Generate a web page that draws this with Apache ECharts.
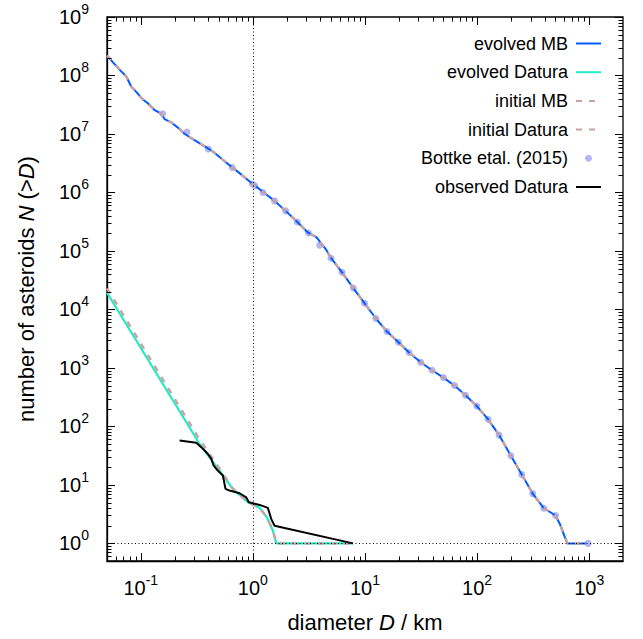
<!DOCTYPE html>
<html><head><meta charset="utf-8">
<script src="https://cdn.jsdelivr.net/npm/echarts@6/dist/echarts.min.js"></script>
<style>html,body{margin:0;padding:0;background:#fff}#c{width:643px;height:639px}</style>
</head><body><div id="c"></div>
<script>
// ---- data ----
const xMajorTicks = [0.1, 1, 10, 100, 1000];
const yMajorTicks = [1, 10, 100, 1e3, 1e4, 1e5, 1e6, 1e7, 1e8, 1e9];

const evolvedMB_D = [0.05, 0.0646, 0.0741, 0.082, 0.092, 0.103, 0.115, 0.132, 0.152, 0.163, 0.187, 0.222, 0.245, 0.272, 0.334, 0.44, 0.578, 0.76, 0.936, 1.32, 1.56, 1.96, 2.49, 3.13, 3.68, 4.52, 4.97, 6.24, 7.87, 9.89, 12.5, 15.7, 19.9, 24.7, 31.4, 39.6, 50.1, 62.8, 78.7, 99.3, 125, 157, 200, 250, 313, 393, 501, 547, 607, 641, 930];
const evolvedMB_N = [2.19e8, 1.26e8, 9.68e7, 6.53e7, 5.15e7, 3.97e7, 3.39e7, 2.59e7, 2.22e7, 1.80e7, 1.58e7, 1.22e7, 1.01e7, 8.87e6, 7.0e6, 5.02e6, 3.25e6, 2.14e6, 1.54e6, 9.2e5, 7.18e5, 4.84e5, 3.13e5, 2.03e5, 1.72e5, 1.04e5, 7.6e4, 4.31e4, 2.32e4, 1.28e4, 7.0e3, 4.2e3, 2.75e3, 1.83e3, 1.25e3, 912, 684, 499, 340, 223, 133, 71, 31.5, 15, 7.1, 4, 3, 2.15, 1.27, 1, 1];

const initialMB_D = [0.05, 0.0646, 0.0741, 0.082, 0.092, 0.103, 0.115, 0.132, 0.152, 0.163, 0.187, 0.222, 0.245, 0.272, 0.334, 0.44, 0.578, 0.76, 0.936, 1.32, 1.56, 1.96, 2.49, 3.13, 3.68, 4.52, 4.97, 6.24, 7.87, 9.89, 12.5, 15.7, 19.9, 24.7, 31.4, 39.6, 50.1, 62.8, 78.7, 99.3, 125, 157, 200, 250, 313, 393, 501, 547, 607, 641, 930];
const initialMB_N = [2.2e8, 1.27e8, 9.7e7, 6.55e7, 5.15e7, 3.98e7, 3.39e7, 2.6e7, 2.22e7, 1.8e7, 1.58e7, 1.22e7, 1.01e7, 8.9e6, 7.0e6, 5.0e6, 3.25e6, 2.14e6, 1.54e6, 9.2e5, 7.2e5, 4.85e5, 3.13e5, 2.03e5, 1.72e5, 1.04e5, 7.6e4, 4.3e4, 2.32e4, 1.28e4, 7.0e3, 4.2e3, 2.75e3, 1.83e3, 1.25e3, 912, 684, 499, 340, 223, 133, 71, 31.5, 15, 7.1, 4, 3, 2.15, 1.27, 1, 1];

const evolvedDatura_D = [0.05, 0.334, 0.504, 0.662, 0.902, 1.148, 1.334, 1.51, 1.62, 7.82];
const evolvedDatura_N = [1.93e4, 50.6, 17.6, 8.55, 5.05, 4.05, 2.79, 1.65, 1, 1];

const initialDatura_D = [0.05, 0.334, 0.504, 0.662, 0.902, 1.148, 1.334, 1.51, 1.62, 7.82];
const initialDatura_N = [2.3e4, 60, 19, 8.7, 5.05, 4.05, 2.79, 1.65, 1, 1];

const bottke_D = [0.157, 0.258, 0.40, 0.655, 0.99, 1.04, 1.23, 1.56, 1.96, 2.49, 3.13, 3.94, 4.97, 6.24, 7.87, 9.89, 12.5, 15.7, 19.9, 24.7, 31.4, 39.6, 50.1, 62.8, 78.7, 99.3, 125, 157, 200, 250, 313, 393, 501, 977];
const bottke_N = [2.22e7, 1.08e7, 5.52e6, 2.67e6, 1.40e6, 1.30e6, 1.00e6, 7.18e5, 4.84e5, 3.13e5, 2.03e5, 1.25e5, 7.48e4, 4.31e4, 2.32e4, 1.28e4, 7.0e3, 4.2e3, 2.75e3, 1.83e3, 1.25e3, 912, 684, 499, 340, 223, 133, 71, 31.5, 15, 7.1, 4, 3, 1];

const observedDatura_D = [0.222, 0.313, 0.346, 0.396, 0.426, 0.446, 0.486, 0.540, 0.570, 0.619, 0.760, 0.873, 0.920, 1.148, 1.36, 1.46, 1.56, 7.82];
const observedDatura_N = [57.5, 52.6, 44.2, 34, 27.9, 21.5, 17.6, 14.5, 8.55, 8, 7.2, 6.1, 5.05, 4.55, 4.05, 2.6, 2.0, 1];

const seriesNames = ['evolved MB', 'evolved Datura', 'initial MB', 'initial Datura', 'Bottke etal. (2015)', 'observed Datura'];
const xRange = [0.05, 2000];
const yRange = [0.5, 1e9];
// -------------------------------------

const FONT = '"Liberation Sans", Arial, Helvetica, sans-serif';
const zip = (a, b) => a.map((v, i) => [v, b[i]]);

function minorValues(range) {
  const out = [];
  for (let k = -3; k <= 10; k++) {
    for (let m = 2; m <= 9; m++) {
      const v = m * Math.pow(10, k);
      if (v > range[0] * 1.0001 && v < range[1] * 0.9999) out.push(v);
    }
  }
  return out;
}
// tick data: [x, y, kind, length]; kind 0 = x-axis tick, 1 = y-axis tick
const tickData = [];
minorValues(xRange).forEach(v => tickData.push([v, 1, 0, 4.5]));
minorValues(yRange).forEach(v => tickData.push([1, v, 1, 4.5]));
xMajorTicks.forEach(v => tickData.push([v, 1, 0, 8]));
yMajorTicks.forEach(v => tickData.push([1, v, 1, 8]));

function expFormatter(value) {
  const e = Math.round(Math.log10(value));
  return '{b|10}{s|' + e + '}';
}
const labelRich = {
  b: { fontSize: 20, fontFamily: FONT, color: '#000' },
  s: { fontSize: 14, fontFamily: FONT, color: '#000', padding: [0, 0, 16, 0] }
};

const chart = echarts.init(document.getElementById('c'), null, { renderer: 'svg' });
const lineIconHidden = { opacity: 0 };
chart.setOption({
  animation: false,
  grid: { left: 107, top: 17, right: 20, bottom: 78, show: true, borderColor: '#000', borderWidth: 1.3, backgroundColor: 'transparent' },
  xAxis: {
    type: 'log', logBase: 10, min: xRange[0], max: xRange[1], splitNumber: 5,
    axisLine: { show: true, onZero: false, lineStyle: { color: '#000', width: 1.3 } },
    axisTick: { show: false },
    splitLine: { show: false },
    axisLabel: { formatter: expFormatter, rich: labelRich, margin: 12, showMinLabel: false, showMaxLabel: false },
    name: 'diameter {i|D} / km', nameLocation: 'middle', nameGap: 50,
    nameTextStyle: { fontSize: 22, fontFamily: FONT, color: '#000',
      rich: { i: { fontSize: 22, fontFamily: FONT, fontStyle: 'italic', color: '#000' } } }
  },
  yAxis: {
    type: 'log', logBase: 10, min: yRange[0], max: yRange[1], splitNumber: 10,
    axisLine: { show: true, onZero: false, lineStyle: { color: '#000', width: 1.3 } },
    axisTick: { show: false },
    splitLine: { show: false },
    axisLabel: { formatter: expFormatter, rich: labelRich, margin: 18, showMinLabel: false, showMaxLabel: true },
    name: 'number of asteroids {i|N} (>{i|D})', nameLocation: 'middle', nameGap: 70,
    nameTextStyle: { fontSize: 22, fontFamily: FONT, color: '#000',
      rich: { i: { fontSize: 22, fontFamily: FONT, fontStyle: 'italic', color: '#000' } } }
  },
  legend: {
    data: [
      { name: seriesNames[0], itemStyle: lineIconHidden },
      { name: seriesNames[1], itemStyle: lineIconHidden },
      { name: seriesNames[2], itemStyle: lineIconHidden },
      { name: seriesNames[3], itemStyle: lineIconHidden },
      { name: seriesNames[4] },
      { name: seriesNames[5], itemStyle: lineIconHidden }
    ],
    orient: 'vertical', right: 36, top: 28.5, align: 'right',
    itemWidth: 25, itemHeight: 7, itemGap: 8.7,
    selectedMode: false,
    textStyle: { fontSize: 18, fontFamily: FONT, color: '#000', lineHeight: 20, padding: [0, 3, 0, 0] }
  },
  series: [
    {
      name: 'axisTicks', type: 'custom', data: tickData, encode: { x: 0, y: 1 }, z: 6, silent: true,
      renderItem: function (params, api) {
        const cs = params.coordSys;
        const kind = api.value(2);
        const len = api.value(3);
        if (kind === 0) {
          const px = Math.round(api.coord([api.value(0), 1])[0]) + 0.5;
          return { type: 'group', children: [
            { type: 'line', shape: { x1: px, y1: cs.y + cs.height, x2: px, y2: cs.y + cs.height - len }, style: { stroke: '#000', lineWidth: 1 } },
            { type: 'line', shape: { x1: px, y1: cs.y, x2: px, y2: cs.y + len }, style: { stroke: '#000', lineWidth: 1 } }
          ] };
        }
        const py = Math.round(api.coord([1, api.value(1)])[1]) + 0.5;
        return { type: 'group', children: [
          { type: 'line', shape: { x1: cs.x, y1: py, x2: cs.x + len, y2: py }, style: { stroke: '#000', lineWidth: 1 } },
          { type: 'line', shape: { x1: cs.x + cs.width, y1: py, x2: cs.x + cs.width - len, y2: py }, style: { stroke: '#000', lineWidth: 1 } }
        ] };
      }
    },
    {
      name: 'refLines', type: 'line', data: [], symbol: 'none',
      markLine: {
        silent: true, symbol: ['none', 'none'], label: { show: false },
        lineStyle: { color: '#000', width: 1, type: [1, 2.5] },
        data: [{ xAxis: 1 }, { yAxis: 1 }]
      }
    },
    { name: seriesNames[0], type: 'line', data: zip(evolvedMB_D, evolvedMB_N), symbol: 'none',
      lineStyle: { color: '#005cff', width: 2 }, itemStyle: { color: '#005cff' } },
    { name: seriesNames[1], type: 'line', data: zip(evolvedDatura_D, evolvedDatura_N), symbol: 'none',
      lineStyle: { color: '#1eecc6', width: 2.2 }, itemStyle: { color: '#1eecc6' } },
    { name: seriesNames[2], type: 'line', data: zip(initialMB_D, initialMB_N), symbol: 'none',
      lineStyle: { color: '#c9a3a3', width: 2.5, type: [6, 7] }, itemStyle: { color: '#c9a3a3' } },
    { name: seriesNames[3], type: 'line', data: zip(initialDatura_D, initialDatura_N), symbol: 'none',
      lineStyle: { color: '#c9a3a3', width: 2.5, type: [6, 7] }, itemStyle: { color: '#c9a3a3' } },
    { name: seriesNames[4], type: 'scatter', data: zip(bottke_D, bottke_N), symbol: 'circle', symbolSize: 7,
      itemStyle: { color: '#b4b4f7', opacity: 1 } },
    { name: seriesNames[5], type: 'line', data: zip(observedDatura_D, observedDatura_N), symbol: 'none',
      lineStyle: { color: '#000', width: 2 }, itemStyle: { color: '#000' } }
  ]
});
</script>
</body></html>
